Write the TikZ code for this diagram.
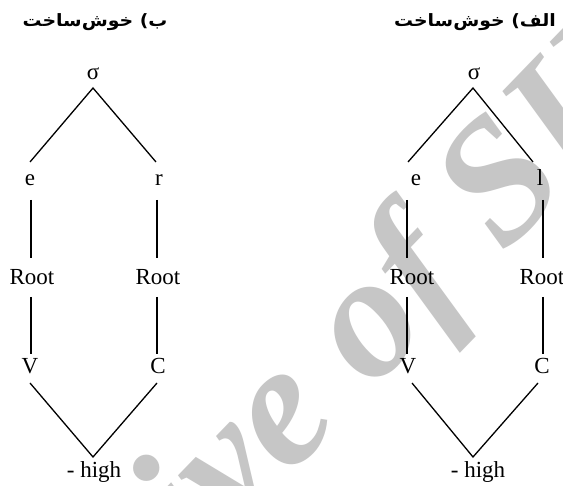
\documentclass[tikz,border=0pt]{standalone}
\usepackage{fontspec}
\setmainfont{Liberation Serif}
\newfontfamily\arabicfont[Script=Arabic, FakeStretch=1.11]{DejaVu Sans}
\TeXXeTstate=1
\definecolor{markgray}{HTML}{C6C6C6}
\begin{document}
\begin{tikzpicture}[x=1pt,y=-1pt,
  lbl/.style={font=\fontsize{23}{23}\selectfont, inner sep=0pt, anchor=base},
  title/.style={font=\arabicfont\bfseries\fontsize{17}{17}\selectfont, inner sep=0pt, anchor=base},
  edge/.style={line width=1.3pt, black}]
\clip (0,0) rectangle (563,486);
\useasboundingbox (0,0) rectangle (563,486);
\fill[white] (0,0) rectangle (563,486);

% background stamp
\node[text=markgray, font=\bfseries\itshape\fontsize{175}{175}\selectfont,
      inner sep=0pt, anchor=base, rotate=46] (stamp) at (329,436) {Archive of SID};

% headings
\node[title] (tB) at (95,27) {\beginR ب) خوش‌ساخت\endR};
\node[title] (tA) at (475,27) {\beginR الف) خوش‌ساخت\endR};

% ---------- tree (b) ----------
\node[lbl] (sigL)  at (93,80)  {σ};
\node[lbl] (eL)    at (30,186) {e};
\node[lbl] (rL)    at (159,186) {r};
\node[lbl] (rtL1)  at (32,285) {Root};
\node[lbl] (rtL2)  at (158,285) {Root};
\node[lbl] (vL)    at (30,374) {V};
\node[lbl] (cL)    at (158,374) {C};
\node[lbl] (hiL)   at (94,478) {- high};

\coordinate (apL) at (93,88);
\coordinate (apL-l) at (30,162);
\coordinate (apL-r) at (156,162);
\coordinate (eL-t) at (31,200);   \coordinate (eL-b) at (31,258);
\coordinate (rL-t) at (157,200);  \coordinate (rL-b) at (157,258);
\coordinate (rtL1-t) at (31,297); \coordinate (rtL1-b) at (31,354);
\coordinate (rtL2-t) at (157,297);\coordinate (rtL2-b) at (157,354);
\coordinate (vL-t) at (30,383);   \coordinate (hiL-t) at (93,457);
\coordinate (cL-t) at (157,383);

\draw[edge] (apL-l) -- (apL) -- (apL-r);
\draw[edge] (eL-t) -- (eL-b);
\draw[edge] (rL-t) -- (rL-b);
\draw[edge] (rtL1-t) -- (rtL1-b);
\draw[edge] (rtL2-t) -- (rtL2-b);
\draw[edge] (vL-t) -- (hiL-t) -- (cL-t);

% ---------- tree (alef) ----------
\node[lbl] (sigR)  at (474,80)  {σ};
\node[lbl] (eR)    at (416,186) {e};
\node[lbl] (lR)    at (540,186) {l};
\node[lbl] (rtR1)  at (412,285) {Root};
\node[lbl] (rtR2)  at (542,285) {Root};
\node[lbl] (vR)    at (408,374) {V};
\node[lbl] (cR)    at (542,374) {C};
\node[lbl] (hiR)   at (478,478) {- high};

\coordinate (apR) at (473,88);
\coordinate (apR-l) at (408,162);
\coordinate (apR-r) at (533,162);
\coordinate (eR-t) at (407,200);   \coordinate (eR-b) at (407,258);
\coordinate (lR-t) at (543,200);   \coordinate (lR-b) at (543,258);
\coordinate (rtR1-t) at (407,297); \coordinate (rtR1-b) at (407,354);
\coordinate (rtR2-t) at (543,297); \coordinate (rtR2-b) at (543,354);
\coordinate (vR-t) at (412,383);   \coordinate (hiR-t) at (473,457);
\coordinate (cR-t) at (538,383);

\draw[edge] (apR-l) -- (apR) -- (apR-r);
\draw[edge] (eR-t) -- (eR-b);
\draw[edge] (lR-t) -- (lR-b);
\draw[edge] (rtR1-t) -- (rtR1-b);
\draw[edge] (rtR2-t) -- (rtR2-b);
\draw[edge] (vR-t) -- (hiR-t) -- (cR-t);
\end{tikzpicture}
\end{document}
